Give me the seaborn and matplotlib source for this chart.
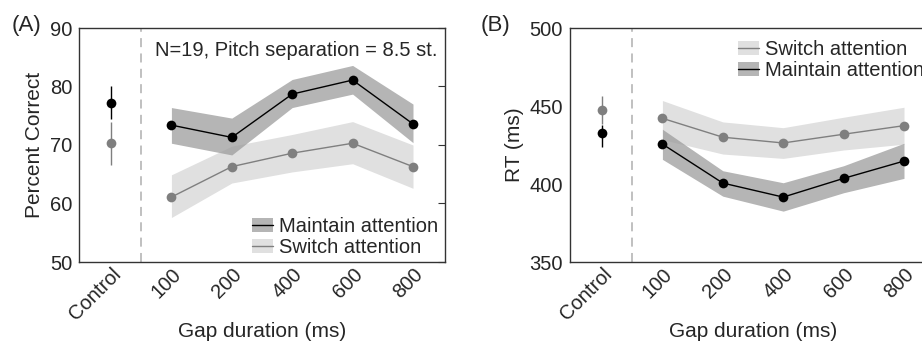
import matplotlib
matplotlib.use("Agg")
import matplotlib.pyplot as plt
import matplotlib.transforms as mtransforms
import seaborn as sns
import pandas as pd
import numpy as np
from matplotlib.patches import Patch
from matplotlib.lines import Line2D

sns.set_style("white")
plt.rcParams['font.family'] = ['Liberation Sans', 'DejaVu Sans']

categories = ['Control', '100', '200', '400', '600', '800']
gaps = ['100', '200', '400', '600', '800']

# Panel A: percent correct
a_maint = [73.4, 71.3, 78.7, 81.1, 73.6]
a_maint_lo = [70.3, 68.3, 76.4, 78.7, 70.4]
a_maint_hi = [76.4, 74.6, 81.2, 83.6, 77.0]
a_switch = [61.1, 66.3, 68.6, 70.3, 66.3]
a_switch_lo = [57.6, 63.5, 65.4, 66.8, 62.6]
a_switch_hi = [64.9, 69.8, 71.8, 74.0, 70.0]
a_ctrl_maint = 77.2
a_ctrl_maint_err = [74.4, 80.1]
a_ctrl_switch = 70.3
a_ctrl_switch_err = [66.5, 74.0]

# Panel B: RT (ms)
b_switch = [442.1, 430.0, 426.3, 431.9, 437.4]
b_switch_lo = [428.5, 419.2, 416.4, 421.8, 425.5]
b_switch_hi = [453.5, 439.8, 436.1, 442.8, 449.2]
b_maint = [425.6, 400.6, 391.6, 403.6, 414.7]
b_maint_lo = [415.8, 392.2, 382.6, 394.4, 403.6]
b_maint_hi = [435.1, 408.5, 400.8, 411.7, 426.1]
b_ctrl_switch = 447.7
b_ctrl_switch_err = [438.5, 456.7]
b_ctrl_maint = 432.5
b_ctrl_maint_err = [423.8, 437.6]

MAINT_BAND = '#9c9c9c'
SWITCH_BAND = '#e0e0e0'
MAINT_LINE = 'black'
SWITCH_LINE = '#7f7f7f'
SPINE = '#333333'
FS = 14.5

fig = plt.figure(figsize=(9.22, 3.44), dpi=100)
axA = fig.add_axes([79/922, (344-262)/344, 366/922, 234/344])
axB = fig.add_axes([570/922, (344-262)/344, 366/922, 234/344])

xg = np.arange(1, len(gaps) + 1)


def panel(ax, maint, mlo, mhi, sw, slo, shi, cm, cme, cs, cse, ylim, yticks):
    ax.fill_between(xg, slo, shi, color=SWITCH_BAND, lw=0, zorder=1)
    ax.fill_between(xg, mlo, mhi, color=MAINT_BAND, alpha=0.75, lw=0, zorder=2)
    df = pd.DataFrame({'x': np.concatenate([xg, xg]),
                       'y': np.concatenate([sw, maint]),
                       'cond': ['Switch'] * len(xg) + ['Maintain'] * len(xg)})
    sns.lineplot(data=df, x='x', y='y', hue='cond',
                 palette={'Switch': SWITCH_LINE, 'Maintain': MAINT_LINE},
                 marker='o', markersize=7, markeredgewidth=0, lw=1,
                 legend=False, ax=ax, zorder=3)
    # control points with error bars
    ax.errorbar([0], [cs], yerr=[[cs - cse[0]], [cse[1] - cs]], fmt='o',
                color=SWITCH_LINE, ms=7, mew=0, elinewidth=1, capsize=0, zorder=3)
    ax.errorbar([0], [cm], yerr=[[cm - cme[0]], [cme[1] - cm]], fmt='o',
                color=MAINT_LINE, ms=7, mew=0, elinewidth=1, capsize=0, zorder=4)
    ax.axvline(0.5, color='#bbbbbb', ls=(0, (5, 3.5)), lw=1.3, zorder=0)
    ax.set_xlim(-0.53, 5.53)
    ax.set_ylim(*ylim)
    ax.set_yticks(yticks)
    ax.set_xticks(np.arange(len(categories)))
    ax.set_xticklabels(categories, rotation=45, ha='right', rotation_mode='anchor')
    off = mtransforms.ScaledTranslation(6/72, 0, fig.dpi_scale_trans)
    for lab in ax.get_xticklabels():
        lab.set_transform(lab.get_transform() + off)
    ax.tick_params(axis='y', direction='in', length=5, right=True, labelsize=FS,
                   color=SPINE, pad=5)
    ax.tick_params(axis='x', length=0, labelsize=FS, pad=2)
    for s in ax.spines.values():
        s.set_color(SPINE)
        s.set_linewidth(1)
        s.set_visible(True)
    ax.set_xlabel('Gap duration (ms)', fontsize=FS + 0.5)
    ax.xaxis.set_label_coords(0.5, -0.255)


panel(axA, a_maint, a_maint_lo, a_maint_hi, a_switch, a_switch_lo, a_switch_hi,
      a_ctrl_maint, a_ctrl_maint_err, a_ctrl_switch, a_ctrl_switch_err,
      (50, 90), [50, 60, 70, 80, 90])
axA.set_ylabel('Percent Correct', fontsize=FS + 0.5, labelpad=4)
axA.text(0.98, 0.945, 'N=19, Pitch separation = 8.5 st.', transform=axA.transAxes,
         ha='right', va='top', fontsize=FS)

panel(axB, b_maint, b_maint_lo, b_maint_hi, b_switch, b_switch_lo, b_switch_hi,
      b_ctrl_maint, b_ctrl_maint_err, b_ctrl_switch, b_ctrl_switch_err,
      (350, 500), [350, 400, 450, 500])
axB.set_ylabel('RT (ms)', fontsize=FS + 0.5, labelpad=4)

maint_handle = (Patch(color=MAINT_BAND, alpha=0.75, lw=0), Line2D([], [], color=MAINT_LINE, lw=1))
switch_handle = (Patch(color=SWITCH_BAND, lw=0), Line2D([], [], color=SWITCH_LINE, lw=1))
axA.legend([maint_handle, switch_handle], ['Maintain attention', 'Switch attention'],
           loc='lower right', bbox_to_anchor=(1.003, -0.013), frameon=False,
           fontsize=FS, handlelength=1.05, handletextpad=0.3, labelspacing=0.1,
           borderaxespad=0)
axB.legend([switch_handle, maint_handle], ['Switch attention', 'Maintain attention'],
           loc='upper left', bbox_to_anchor=(0.437, 0.983), frameon=False, fontsize=FS,
           handlelength=1.05, handletextpad=0.3, labelspacing=0.1, borderaxespad=0)

fig.text(12/922, 1 - 25/344, '(A)', fontsize=16, va='center', ha='left')
fig.text(481/922, 1 - 25/344, '(B)', fontsize=16, va='center', ha='left')

fig.savefig('out.png', dpi=100)
